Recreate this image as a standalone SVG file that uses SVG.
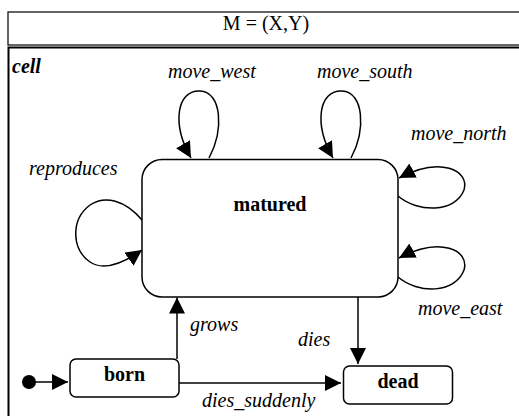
<svg xmlns="http://www.w3.org/2000/svg" width="519" height="416" viewBox="0 0 519 416">
  <style>
    .frame { fill: #fff; stroke: #000; }
    .state { fill: #fff; stroke: #000; stroke-width: 1.5; }
    .edge { fill: none; stroke: #000; stroke-width: 1.5; marker-end: url(#arrow); }
    .name { font-family: "Liberation Serif", "Times New Roman", serif; font-size: 20px; font-weight: bold; text-anchor: middle; }
    .label { font-family: "Liberation Serif", "Times New Roman", serif; font-size: 20px; font-style: italic; }
    .title { font-family: "Liberation Serif", "Times New Roman", serif; font-size: 20px; text-anchor: middle; }
  </style>
  <defs>
    <marker id="arrow" markerUnits="userSpaceOnUse" markerWidth="18" markerHeight="18" refX="16" refY="8" orient="auto">
      <path d="M0,0 L16,8 L0,16 z" fill="#000"/>
    </marker>
  </defs>

  <rect width="519" height="416" fill="#fff"/>

  <!-- enclosing machine frame with its header -->
  <g id="frame">
    <rect class="frame" x="8" y="12" width="530" height="33" stroke-width="1.2"/>
    <text class="title" x="266" y="30">M = (X,Y)</text>
    <rect class="frame" x="8.5" y="47.5" width="530" height="400" stroke-width="2"/>
    <text x="12" y="73" font-family="Liberation Serif, serif" font-size="20" font-weight="bold" font-style="italic">cell</text>
  </g>

  <!-- transitions -->
  <g id="connectors">
    <path class="edge" d="M29,382 L68,382"/>
    <path class="edge" d="M177,359 L177,297.5"/>
    <path class="edge" d="M358,297 L358,364"/>
    <path class="edge" d="M179,383 L341,383"/>
    <!-- self loops on matured -->
    <path class="edge" d="M209,158 C224,130 222,92 200,91 C176,90 172,125 191,158"/>
    <path class="edge" d="M351,158 C366,130 364,92 342,91 C318,90 314,125 333,158"/>
    <path class="edge" d="M398,196 C418,213 455,213 464,190 C470,170 440,156 399,178"/>
    <path class="edge" d="M398,277 C418,294 455,294 464,270 C470,250 440,236 399,258"/>
    <path class="edge" d="M142,220 C125,200 105,195 90,205 C70,220 72,250 90,262 C105,272 125,262 142,250"/>
  </g>

  <g id="transition-labels">
    <text class="label" x="168" y="78">move_west</text>
    <text class="label" x="317" y="78">move_south</text>
    <text class="label" x="411" y="140">move_north</text>
    <text class="label" x="29" y="175">reproduces</text>
    <text class="label" x="418" y="315">move_east</text>
    <text class="label" x="190" y="331">grows</text>
    <text class="label" x="298" y="346">dies</text>
    <text class="label" x="202" y="407">dies_suddenly</text>
  </g>

  <g id="initial">
    <circle cx="29" cy="382" r="7" fill="#000"/>
  </g>

  <g id="matured">
    <rect class="state" x="142" y="159.5" width="256" height="137.5" rx="20"/>
    <text class="name" x="270" y="211">matured</text>
  </g>

  <g id="born">
    <rect class="state" x="70" y="359" width="109" height="38" rx="6"/>
    <text class="name" x="124.5" y="381">born</text>
  </g>

  <g id="dead">
    <rect class="state" x="343.5" y="366" width="109" height="38" rx="6"/>
    <text class="name" x="398" y="388">dead</text>
  </g>
</svg>
